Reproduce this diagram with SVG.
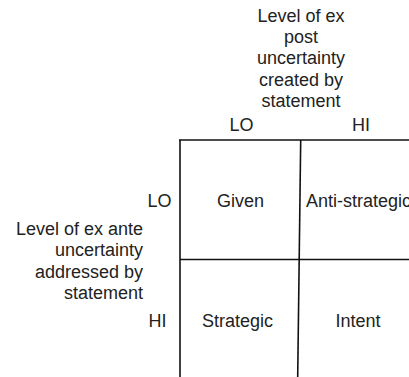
<svg xmlns="http://www.w3.org/2000/svg" width="409" height="377" viewBox="0 0 409 377">
<style>
text{font-family:"Liberation Sans",Arial,sans-serif;font-size:18px;fill:#222;}
.c{text-anchor:middle;}
.r{text-anchor:end;}
.ln{stroke:#111;stroke-width:1.6;fill:none;}
</style>
<rect width="409" height="377" fill="#fff"/>
<g id="connectors">
<line class="ln" x1="179" y1="140" x2="409" y2="140"/>
<line class="ln" x1="180" y1="140" x2="180" y2="377"/>
<line class="ln" x1="300.7" y1="140" x2="297.7" y2="377"/>
<line class="ln" x1="180" y1="259.5" x2="409" y2="259.5"/>
</g>
<g id="col-title">
<text class="c" x="301" y="21.7">Level of ex</text>
<text class="c" x="301" y="43">post</text>
<text class="c" x="301" y="64.3">uncertainty</text>
<text class="c" x="301" y="85.6">created by</text>
<text class="c" x="301" y="106.9">statement</text>
</g>
<g id="col-lo"><text class="c" x="241.5" y="131">LO</text></g>
<g id="col-hi"><text class="c" x="361" y="131">HI</text></g>
<g id="row-title">
<text class="r" x="143" y="235">Level of ex ante</text>
<text class="r" x="143" y="256.4">uncertainty</text>
<text class="r" x="143" y="277.8">addressed by</text>
<text class="r" x="143" y="299.2">statement</text>
</g>
<g id="row-lo"><text class="c" x="159.5" y="207">LO</text></g>
<g id="row-hi"><text class="c" x="157.5" y="327">HI</text></g>
<g id="given"><text class="c" x="240.5" y="207">Given</text></g>
<g id="anti-strategic"><text x="306" y="207">Anti-strategic</text></g>
<g id="strategic"><text class="c" x="237.5" y="327">Strategic</text></g>
<g id="intent"><text class="c" x="358" y="327">Intent</text></g>
</svg>
